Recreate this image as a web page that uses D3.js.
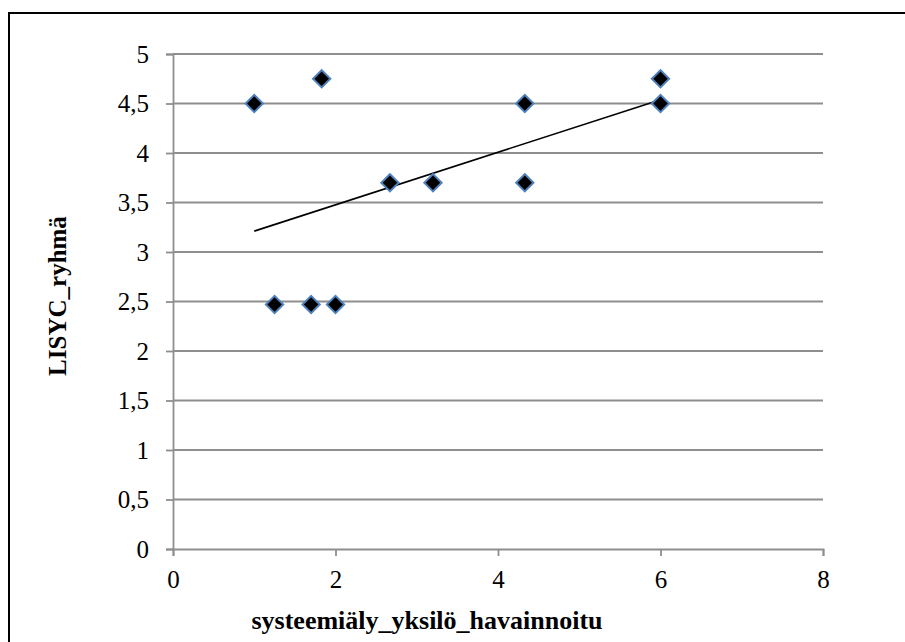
<!DOCTYPE html>
<html>
<head>
<meta charset="utf-8">
<script src="https://cdn.jsdelivr.net/npm/d3@7"></script>
<style>
  body { margin: 0; background: #fff; }
  svg text { font-family: "Times New Roman", "Liberation Serif", Tinos, "DejaVu Serif", serif !important; fill: #000; }
</style>
</head>
<body>
<svg id="chart" width="905" height="642"></svg>
<script>
// observed values
const xVals = [1, 1.83, 1.25, 1.7, 2, 2.67, 3.2, 4.33, 4.33, 6, 6];
const yVals = [4.5, 4.75, 2.47, 2.47, 2.47, 3.7, 3.7, 4.5, 3.7, 4.75, 4.5];
const xTicks = [0, 2, 4, 6, 8];
const yTicks = [0, 0.5, 1, 1.5, 2, 2.5, 3, 3.5, 4, 4.5, 5];
const xTitle = "systeemiäly_yksilö_havainnoitu";
const yTitle = "LISYC_ryhmä";

const svg = d3.select("#chart");
const plotL = 173, plotR = 823, plotT = 54, plotB = 549;

// chart border (right/bottom edges fall outside the picture)
svg.append("rect")
  .attr("x", 9).attr("y", 13)
  .attr("width", 920).attr("height", 660)
  .attr("fill", "none").attr("stroke", "#000").attr("stroke-width", 2);

const x = d3.scaleLinear().domain([0, 8]).range([plotL, plotR]);
const y = d3.scaleLinear().domain([0, 5]).range([plotB, plotT]);

const fmt = d => String(d).replace(".", ",");

// horizontal gridlines
svg.append("g").selectAll("line")
  .data(yTicks.filter(d => d > 0))
  .enter().append("line")
  .attr("x1", plotL).attr("x2", plotR)
  .attr("y1", d => y(d)).attr("y2", d => y(d))
  .attr("stroke", "#8e8e8e").attr("stroke-width", 1.8);

// y axis
const yAxis = svg.append("g")
  .attr("transform", "translate(" + plotL + ",0)")
  .call(d3.axisLeft(y).tickValues(yTicks).tickFormat(fmt).tickSize(7).tickPadding(17));
yAxis.attr("font-family", null);
yAxis.select(".domain").attr("stroke", "#8e8e8e").attr("stroke-width", 1.8);
yAxis.selectAll(".tick line").attr("stroke", "#8e8e8e").attr("stroke-width", 1.8);
yAxis.selectAll(".tick text").attr("font-size", 25).attr("fill", "#000");

// x axis
const xAxis = svg.append("g")
  .attr("transform", "translate(0," + plotB + ")")
  .call(d3.axisBottom(x).tickValues(xTicks).tickSize(7).tickPadding(14));
xAxis.attr("font-family", null);
xAxis.select(".domain").attr("stroke", "#8e8e8e").attr("stroke-width", 1.8);
xAxis.selectAll(".tick line").attr("stroke", "#8e8e8e").attr("stroke-width", 1.8);
xAxis.selectAll(".tick text").attr("font-size", 25).attr("fill", "#000");

// linear trendline (least squares over the observed points)
const mx = d3.mean(xVals), my = d3.mean(yVals);
const slope = d3.sum(xVals, (v, i) => (v - mx) * (yVals[i] - my)) / d3.sum(xVals, v => (v - mx) * (v - mx));
const icpt = my - slope * mx;
const ext = d3.extent(xVals);
svg.append("line")
  .attr("x1", x(ext[0])).attr("y1", y(icpt + slope * ext[0]))
  .attr("x2", x(ext[1])).attr("y2", y(icpt + slope * ext[1]))
  .attr("stroke", "#000").attr("stroke-width", 1.6);

// diamond markers
const diamond = d3.symbol().type(d3.symbolSquare).size(150);
svg.append("g").selectAll("path")
  .data(xVals.map((v, i) => [v, yVals[i]]))
  .enter().append("path")
  .attr("d", diamond)
  .attr("transform", d => "translate(" + x(d[0]) + "," + y(d[1]) + ") rotate(45)")
  .attr("fill", "#000")
  .attr("stroke", "#4f81bd").attr("stroke-width", 2);

// axis titles
svg.append("text")
  .attr("x", 427).attr("y", 629)
  .attr("text-anchor", "middle")
  .attr("font-size", 26).attr("font-weight", "bold")
  .text(xTitle);

svg.append("text")
  .attr("transform", "translate(66,296) rotate(-90)")
  .attr("text-anchor", "middle")
  .attr("font-size", 25).attr("font-weight", "bold")
  .text(yTitle);
</script>
</body>
</html>
